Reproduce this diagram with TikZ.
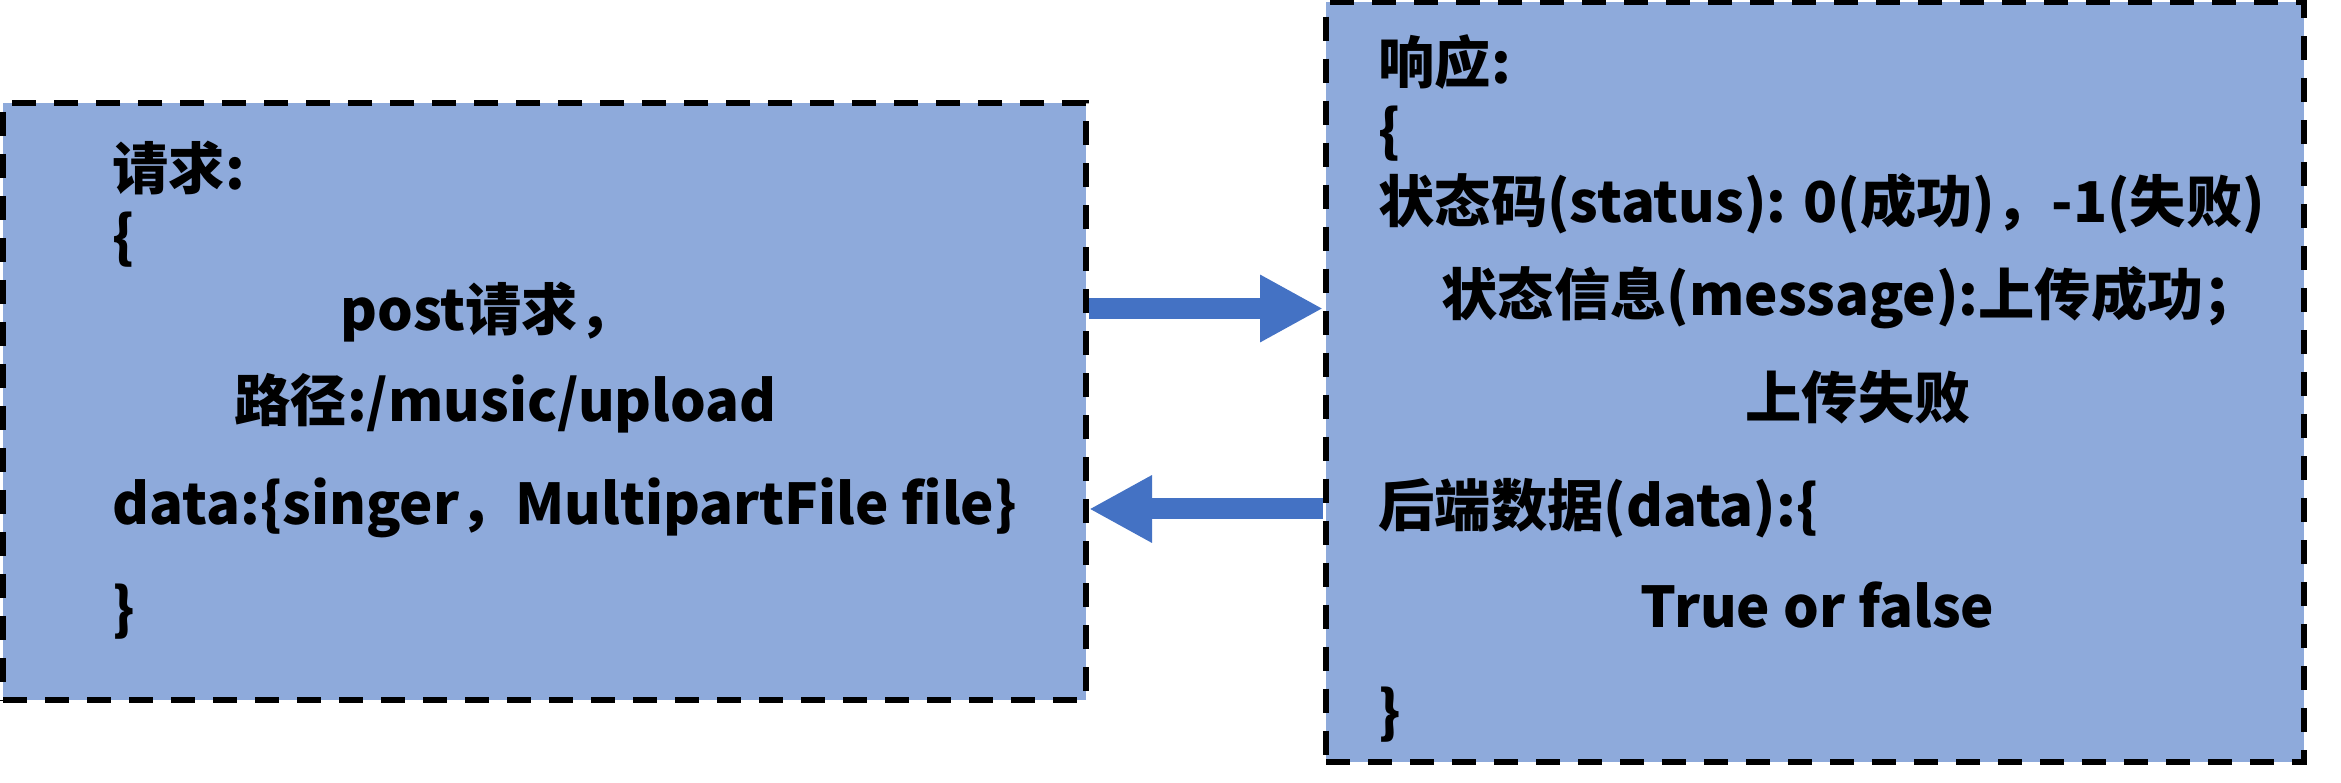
\documentclass[tikz,border=0pt]{standalone}
\usepackage{fontspec}
\newfontfamily\cjk{Noto Sans CJK SC}
\usetikzlibrary{arrows.meta}

\definecolor{boxfill}{HTML}{8EAADB}
\definecolor{arrowblue}{HTML}{4472C4}

\tikzset{
  box/.style={draw=black, fill=boxfill, line width=0.06cm,
    dash pattern=on 0.24cm off 0.18cm, inner sep=0pt},
  txt/.style={anchor=base west, inner sep=0pt,
    font=\cjk\bfseries\fontsize{16pt}{19pt}\selectfont},
  bigarrow/.style={arrowblue, line width=0.21cm,
    -{Triangle[length=0.63cm, width=0.63cm]}}
}

\begin{document}
\begin{tikzpicture}[x=1cm, y=1cm]
  \useasboundingbox (0,0) rectangle (23.41,-7.83);

  % --- request / response boxes ---
  \node[box, minimum width=10.83cm, minimum height=5.97cm] (req) at (5.445,-4.015) {};
  \node[box, minimum width=9.78cm, minimum height=7.595cm] (resp) at (18.15,-3.82) {};

  % --- request text ---
  \node[txt] (q1) at (1.12,-1.90) {请求:};
  \node[txt] (q2) at (1.12,-2.58) {\{};
  \node[txt] (q3) at (3.40,-3.31) {post请求，};
  \node[txt] (q4) at (2.34,-4.22) {路径:/music/upload};
  \node[txt] (q5) at (1.12,-5.25) {data:\{singer，MultipartFile file\}};
  \node[txt] (q6) at (1.12,-6.30) {\}};

  % --- response text ---
  \node[txt] (p1) at (13.78,-0.84) {响应:};
  \node[txt] (p2) at (13.78,-1.52) {\{};
  \node[txt] (p3) at (13.78,-2.23) {状态码(status): 0(成功)，-1(失败)};
  \node[txt] (p4) at (14.41,-3.16) {状态信息(message):上传成功；};
  \node[txt] (p5) at (17.45,-4.19) {上传失败};
  \node[txt] (p6) at (13.78,-5.27) {后端数据(data):\{};
  \node[txt] (p7) at (16.40,-6.28) {True or false};
  \node[txt] (p8) at (13.78,-7.33) {\}};

  % --- request goes out, response comes back ---
  \coordinate (upy) at (0,-3.085);
  \coordinate (dny) at (0,-5.09);
  \draw[bigarrow] (req.east |- upy) -- (resp.west |- upy);
  \draw[bigarrow] (resp.west |- dny) -- (req.east |- dny);

\end{tikzpicture}
\end{document}
